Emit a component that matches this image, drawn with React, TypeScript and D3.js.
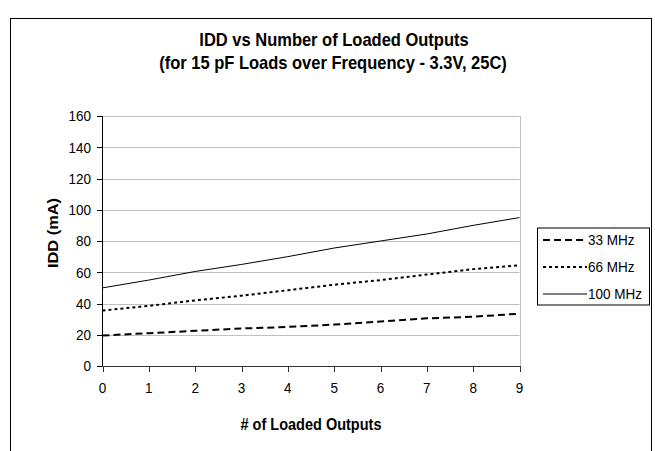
import React from 'react';
import { scaleLinear, line } from 'd3';

// # of loaded outputs
const outputs = [0, 1, 2, 3, 4, 5, 6, 7, 8, 9];
// IDD (mA) per frequency
const idd33 = [19.5, 21, 22.5, 24, 25, 26.5, 28.5, 30.5, 31.5, 33.5];
const idd66 = [35.5, 38.5, 42, 45, 48.5, 52, 55, 58.5, 62, 64.5];
const idd100 = [50, 55, 60.5, 65, 70, 75.5, 80, 84.5, 90, 95];
const yTicks = [0, 20, 40, 60, 80, 100, 120, 140, 160];

const seriesNames = ['33 MHz', '66 MHz', '100 MHz'];
const seriesValues = [idd33, idd66, idd100];

const FONT = 'Liberation Sans, Arial, sans-serif';
const STRETCH = 1.13; // the source glyphs are a bit taller than Arial

// text drawn at (x, y) baseline, stretched vertically
const Txt = ({ x, y, size, bold = false, anchor = 'start', dy = '0', rotate = false, children }: any) => (
  <g transform={rotate
    ? `translate(${x},${y}) rotate(-90) scale(${STRETCH},1)`
    : `translate(${x},${y}) scale(1,${STRETCH})`}>
    <text x={0} y={0} dy={dy} textAnchor={anchor} fontFamily={FONT} fontSize={size}
      fontWeight={bold ? 'bold' : 'normal'} fill="#000">
      {children}
    </text>
  </g>
);

const App = () => {
  const width = 655;
  const height = 451;
  const margin = { top: 116, right: 135.5, bottom: 85, left: 102.5 };
  const innerRight = width - margin.right;
  const innerBottom = height - margin.bottom;

  const xScale = scaleLinear().domain([0, 9]).range([margin.left, innerRight]);
  const yScale = scaleLinear().domain([0, 160]).range([innerBottom, margin.top]);

  const lineGen = line<number>()
    .x((d, i) => xScale(outputs[i]))
    .y(d => yScale(d));

  // line styles: dashed, dotted, solid
  const styles = [
    { width: 2, dash: '7,4' },
    { width: 2, dash: '3,3' },
    { width: 1, dash: null },
  ];

  const legendX = 537;
  const legendY = 227.5;
  const legendRows = [240, 267, 294];
  const snap = (v: number) => Math.round(v) + 0.5;

  return (
    <svg width={width} height={height} style={{ position: 'absolute', left: 0, top: 0 }}>
      <rect x={0} y={0} width={width} height={height} fill="#fff" />
      {/* chart area border */}
      <rect x={10.5} y={18.5} width={641} height={460} fill="none" stroke="#000" strokeWidth={1} />

      {/* title */}
      <Txt x={334} y={46} size={16.5} bold anchor="middle">IDD vs Number of Loaded Outputs</Txt>
      <Txt x={333} y={69} size={16.5} bold anchor="middle">(for 15 pF Loads over Frequency - 3.3V, 25C)</Txt>

      {/* gridlines */}
      {yTicks.filter(t => t > 0).map(t => (
        <line key={t} x1={margin.left} x2={innerRight} y1={snap(yScale(t))} y2={snap(yScale(t))}
          stroke="#c0c0c0" strokeWidth={1} />
      ))}
      {/* plot area right border */}
      <line x1={snap(innerRight)} x2={snap(innerRight)} y1={margin.top} y2={innerBottom}
        stroke="#c0c0c0" strokeWidth={1} />

      {/* y axis */}
      <line x1={102.5} x2={102.5} y1={margin.top} y2={innerBottom + 0.5} stroke="#000" strokeWidth={1} />
      {yTicks.map(t => (
        <g key={t}>
          <line x1={97} x2={102.5} y1={snap(yScale(t))} y2={snap(yScale(t))} stroke="#000" />
          <Txt x={91} y={yScale(t)} size={13.5} anchor="end" dy="0.35em">{t}</Txt>
        </g>
      ))}

      {/* x axis */}
      <line x1={margin.left} x2={innerRight + 0.5} y1={innerBottom + 0.5} y2={innerBottom + 0.5} stroke="#333" strokeWidth={1} />
      {outputs.map(o => (
        <g key={o}>
          <line x1={snap(xScale(o))} x2={snap(xScale(o))} y1={innerBottom} y2={innerBottom + 6} stroke="#333" />
          <Txt x={xScale(o)} y={393} size={13.5} anchor="middle">{o}</Txt>
        </g>
      ))}

      {/* axis titles */}
      <Txt x={xScale(4.5)} y={430} size={14.5} bold anchor="middle"># of Loaded Outputs</Txt>
      <Txt x={58} y={233} size={14.5} bold anchor="middle" rotate>IDD (mA)</Txt>

      {/* series */}
      {seriesValues.map((vals, i) => (
        <path key={seriesNames[i]} d={lineGen(vals) || ''} fill="none" stroke="#000"
          strokeWidth={styles[i].width} strokeDasharray={styles[i].dash || undefined} />
      ))}

      {/* legend */}
      <rect x={legendX + 0.5} y={legendY + 0.5} width={112} height={77} fill="#fff" stroke="#000" strokeWidth={1} />
      {seriesNames.map((name, i) => (
        <g key={name}>
          <line x1={543} x2={587} y1={legendRows[i]} y2={legendRows[i]} stroke="#000"
            strokeWidth={styles[i].width} strokeDasharray={styles[i].dash || undefined} />
          <Txt x={588} y={legendRows[i]} size={13.5} dy="0.35em">{name}</Txt>
        </g>
      ))}
    </svg>
  );
};

export default App;
